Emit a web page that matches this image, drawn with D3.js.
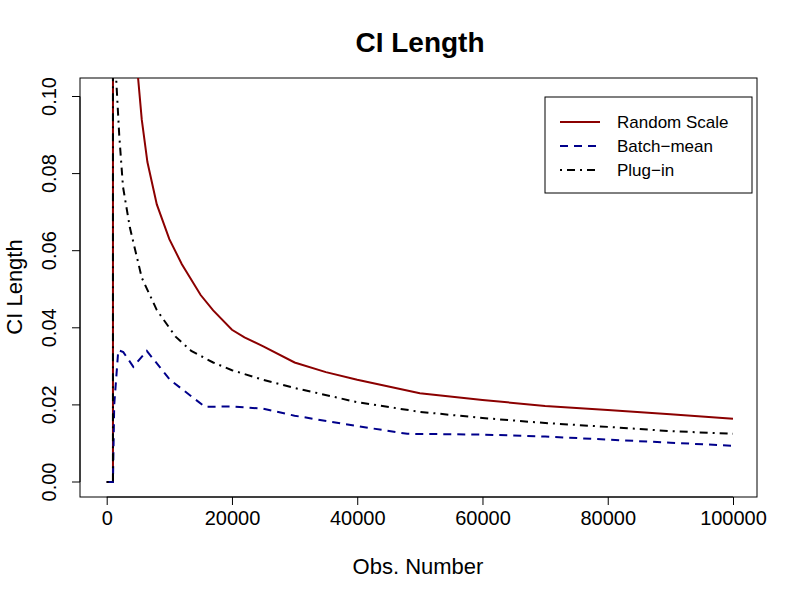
<!DOCTYPE html>
<html><head><meta charset="utf-8">
<script src="https://cdn.jsdelivr.net/npm/d3@7"></script>
<style>body{margin:0;background:#fff}</style></head>
<body><svg width="800" height="600"></svg>
<script>
var redX  = [0, 1000, 1000, 5000, 5600, 6500, 8000, 10000, 12000, 15000, 17000, 20000, 22000, 25000, 30000, 35000, 40000, 50000, 60000, 70000, 80000, 90000, 100000];
var redY  = [0, 0, 0.5, 0.105, 0.094, 0.083, 0.072, 0.063, 0.0565, 0.0485, 0.0445, 0.0395, 0.0375, 0.0352, 0.031, 0.0285, 0.0265, 0.023, 0.0213, 0.0197, 0.0187, 0.0176, 0.0164];
var plugX = [0, 1000, 1000, 1500, 2000, 2600, 3700, 5600, 8000, 11000, 13500, 17000, 20000, 25000, 30000, 40000, 50000, 60000, 70000, 80000, 90000, 100000];
var plugY = [0, 0, 0.5, 0.105, 0.09, 0.0766, 0.066, 0.053, 0.0446, 0.0377, 0.034, 0.031, 0.029, 0.0265, 0.0244, 0.0207, 0.0182, 0.0166, 0.0153, 0.0143, 0.0132, 0.0125];
var bmX   = [0, 1000, 1200, 1850, 2650, 4250, 6400, 10100, 15700, 20000, 25000, 30000, 40000, 48000, 60000, 70000, 80000, 90000, 100000];
var bmY   = [0, 0, 0.02, 0.0342, 0.0337, 0.0299, 0.034, 0.0265, 0.0195, 0.0196, 0.019, 0.0172, 0.0145, 0.0125, 0.0123, 0.0118, 0.011, 0.0102, 0.0094];
var xTicks = [0, 20000, 40000, 60000, 80000, 100000];
var yTicks = [0, 0.02, 0.04, 0.06, 0.08, 0.10];

var svg = d3.select("svg");
var font = "Liberation Sans, Arial, sans-serif";
var L = 80, R = 757, T = 78, B = 497;
var x = d3.scaleLinear().domain([0, 100000]).range([106.7, 733]);
var y = d3.scaleLinear().domain([0, 0.1]).range([482, 96.5]);

svg.append("defs").append("clipPath").attr("id", "c")
  .append("rect").attr("x", L).attr("y", T).attr("width", R - L).attr("height", B - T);

svg.append("text").attr("x", 420).attr("y", 52).attr("text-anchor", "middle")
  .attr("font-family", font).attr("font-weight", "bold").attr("font-size", 28).text("CI Length");

svg.append("g").attr("transform", "translate(0," + B + ")")
  .call(d3.axisBottom(x).tickValues(xTicks).tickFormat(d3.format("d")).tickSize(8).tickPadding(6))
  .call(function (g) { g.select(".domain").attr("d", "M" + x(0) + ",0H" + x(100000)); })
  .selectAll("text").attr("font-size", 20).attr("font-family", font);

var ya = svg.append("g").attr("transform", "translate(" + L + ",0)")
  .call(d3.axisLeft(y).tickValues(yTicks).tickFormat(d3.format(".2f")).tickSize(8))
  .call(function (g) { g.select(".domain").attr("d", "M0," + y(0) + "V" + y(0.1)); });
ya.selectAll("text").attr("font-size", 20).attr("font-family", font)
  .attr("text-anchor", "middle").attr("transform", "rotate(-90)")
  .attr("x", function (d) { return -y(d); }).attr("y", -24).attr("dy", "0");
ya.selectAll(".tick").attr("transform", null)
  .selectAll("line").attr("transform", function (d) { return "translate(0," + y(d) + ")"; });

svg.append("rect").attr("x", L).attr("y", T).attr("width", R - L).attr("height", B - T)
  .attr("fill", "none").attr("stroke", "#000");

svg.append("text").attr("x", 418).attr("y", 574).attr("text-anchor", "middle")
  .attr("font-family", font).attr("font-size", 22).text("Obs. Number");
svg.append("text").attr("transform", "translate(22,287) rotate(-90)").attr("text-anchor", "middle")
  .attr("font-family", font).attr("font-size", 22).text("CI Length");

var series = [
  {xs: redX, ys: redY, color: "#8b0000", dash: null, name: "Random Scale"},
  {xs: bmX, ys: bmY, color: "#00008b", dash: "8,6", name: "Batch\u2212mean"},
  {xs: plugX, ys: plugY, color: "#000", dash: "2,5,8,5", name: "Plug\u2212in"}
];
var line = d3.line().x(function (d) { return x(d[0]); }).y(function (d) { return y(d[1]); });
var plot = svg.append("g").attr("clip-path", "url(#c)");
series.forEach(function (s) {
  var pts = s.xs.map(function (v, i) { return [v, s.ys[i]]; });
  plot.append("path").datum(pts).attr("d", line)
    .attr("fill", "none").attr("stroke", s.color).attr("stroke-width", 2).attr("stroke-dasharray", s.dash);
});

var lg = svg.append("g");
lg.append("rect").attr("x", 545).attr("y", 97).attr("width", 207).attr("height", 96)
  .attr("fill", "#fff").attr("stroke", "#000");
series.forEach(function (s, i) {
  var yy = 122 + i * 24;
  lg.append("line").attr("x1", 560).attr("x2", 600).attr("y1", yy).attr("y2", yy)
    .attr("stroke", s.color).attr("stroke-width", 2).attr("stroke-dasharray", s.dash);
  lg.append("text").attr("x", 617).attr("y", yy + 6).attr("font-family", font)
    .attr("font-size", 17).text(s.name);
});
</script></body></html>
